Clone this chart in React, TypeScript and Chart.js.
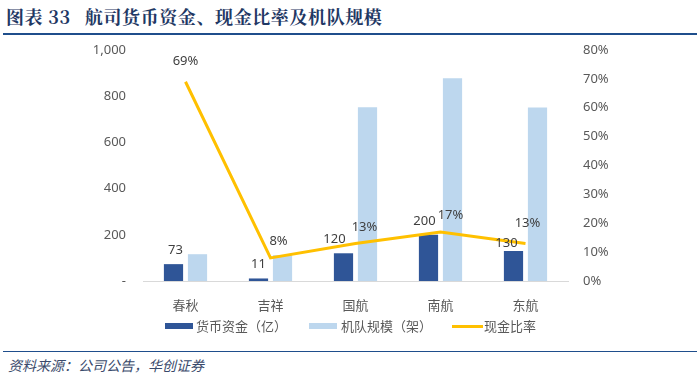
import React, { useEffect, useRef } from "react";
import { Chart, registerables } from "chart.js";

Chart.register(...registerables);

const categories = ["春秋", "吉祥", "国航", "南航", "东航"];
const cashFunds = [73, 11, 120, 200, 130]; // 货币资金（亿）
const fleetSize = [116, 112, 752, 878, 751]; // 机队规模（架）
const cashRatio = [0.69, 0.08, 0.13, 0.17, 0.13]; // 现金比率
const leftTicks = [0, 200, 400, 600, 800, 1000];
const rightTicks = [0, 0.1, 0.2, 0.3, 0.4, 0.5, 0.6, 0.7, 0.8];

// label nudges (style only)
const cashLabelDx = [2, 0, -9, -4, -7];
const cashLabelDy = [0, 0, 0, 0, 6];
const ratioLabelDx = [0, 8, 9, 10, 2];
const ratioLabelDy = [-4, 0, 1, 0, -3];

const FONT = "'Noto Sans', 'Noto Sans CJK SC', sans-serif";
const CJK = "'Noto Sans CJK SC', 'Noto Sans', sans-serif";

const labelPlugin = {
  id: "valueLabels",
  afterDatasetsDraw(chart: any) {
    const ctx = chart.ctx;
    ctx.save();
    ctx.font = `13px ${FONT}`;
    ctx.fillStyle = "#404040";
    ctx.textAlign = "center";
    ctx.textBaseline = "alphabetic";
    const m0 = chart.getDatasetMeta(0);
    m0.data.forEach((el: any, i: number) => {
      ctx.fillText(String(cashFunds[i]), el.x + cashLabelDx[i], el.y - 10 + cashLabelDy[i]);
    });
    const m2 = chart.getDatasetMeta(2);
    m2.data.forEach((el: any, i: number) => {
      ctx.fillText(
        `${Math.round(cashRatio[i] * 100)}%`,
        el.x + ratioLabelDx[i],
        el.y - 13 + ratioLabelDy[i]
      );
    });
    ctx.restore();
  },
};

function ChartView() {
  const ref = useRef<HTMLCanvasElement | null>(null);
  useEffect(() => {
    if (!ref.current) return;
    const chart = new Chart(ref.current, {
      type: "bar",
      data: {
        labels: categories,
        datasets: [
          {
            type: "bar",
            label: "货币资金（亿）",
            data: cashFunds,
            backgroundColor: "#2F5597",
            yAxisID: "y",
            order: 1,
            barPercentage: 0.8,
            categoryPercentage: 0.565,
          },
          {
            type: "bar",
            label: "机队规模（架）",
            data: fleetSize,
            backgroundColor: "#BDD7EE",
            yAxisID: "y",
            order: 1,
            barPercentage: 0.8,
            categoryPercentage: 0.565,
          },
          {
            type: "line",
            label: "现金比率",
            data: cashRatio,
            borderColor: "#FFC000",
            backgroundColor: "#FFC000",
            borderWidth: 3,
            pointRadius: 0,
            tension: 0,
            yAxisID: "y1",
            order: 0,
          },
        ] as any,
      },
      options: {
        animation: false,
        responsive: false,
        maintainAspectRatio: false,
        devicePixelRatio: 1,
        layout: { padding: { top: 0, left: 0, right: 0, bottom: 0 } },
        plugins: {
          legend: { display: false },
          tooltip: { enabled: false },
        },
        scales: {
          x: {
            grid: { display: false, drawTicks: false },
            border: { display: true, color: "#D9D9D9", width: 1 },
            ticks: {
              color: "#595959",
              font: { family: CJK, size: 13 },
              padding: 16,
            },
            afterFit(scale: any) {
              scale.height = 59;
            },
          },
          y: {
            position: "left",
            min: 0,
            max: 1000,
            afterBuildTicks(scale: any) {
              scale.ticks = leftTicks.map((v) => ({ value: v }));
            },
            grid: { display: false, drawTicks: false },
            border: { display: false },
            ticks: {
              color: "#595959",
              font: { family: FONT, size: 13 },
              padding: 17,
              callback: (v: any) => (Number(v) === 0 ? "-" : Number(v).toLocaleString("en-US")),
            },
            afterFit(scale: any) {
              scale.width = 143;
              scale.paddingTop = 25;
            },
          },
          y1: {
            position: "right",
            min: 0,
            max: 0.8,
            afterBuildTicks(scale: any) {
              scale.ticks = rightTicks.map((v) => ({ value: v }));
            },
            grid: { display: false, drawTicks: false },
            border: { display: false },
            ticks: {
              color: "#595959",
              font: { family: FONT, size: 13 },
              padding: 15,
              callback: (v: any) => `${Math.round(Number(v) * 100)}%`,
            },
            afterFit(scale: any) {
              scale.width = 132;
              scale.paddingTop = 25;
            },
          },
        },
      } as any,
      plugins: [labelPlugin],
    });
    return () => chart.destroy();
  }, []);
  return (
    <canvas
      ref={ref}
      width={700}
      height={315}
      style={{ position: "absolute", left: 0, top: 25, width: 700, height: 315 }}
    />
  );
}

const legendItems = [
  { label: "货币资金（亿）", color: "#2F5597", h: 6, w: 28, left: 165, textLeft: 196 },
  { label: "机队规模（架）", color: "#BDD7EE", h: 6, w: 28, left: 309, textLeft: 341 },
  { label: "现金比率", color: "#FFC000", h: 3, w: 31, left: 452, textLeft: 484 },
];

export default function App() {
  return (
    <div
      style={{
        position: "absolute",
        left: 0,
        top: 0,
        width: 700,
        height: 376,
        background: "#fff",
        overflow: "hidden",
      }}
    >
      <ChartView />
      <div
        style={{
          position: "absolute",
          left: 0,
          top: 0,
          width: 700,
          height: 33,
          background: "#fff",
        }}
      />
      <div
        style={{
          position: "absolute",
          left: 6,
          top: 3,
          fontFamily: "'Noto Serif CJK SC', 'Noto Sans CJK SC', serif",
          fontWeight: 700,
          fontSize: 18,
          letterSpacing: 0.6,
          color: "#1F3864",
          whiteSpace: "nowrap",
          lineHeight: "26px",
        }}
      >
        <span>图表 33</span>
        <span style={{ marginLeft: 14 }}>航司货币资金、现金比率及机队规模</span>
      </div>
      <div
        style={{
          position: "absolute",
          left: 3,
          right: 3,
          top: 33,
          height: 2,
          background: "#1F4E8C",
        }}
      />
      {legendItems.map((it) => (
        <React.Fragment key={it.label}>
          <div
            style={{
              position: "absolute",
              left: it.left,
              top: 326 - it.h / 2,
              width: it.w,
              height: it.h,
              background: it.color,
            }}
          />
          <div
            style={{
              position: "absolute",
              left: it.textLeft,
              top: 317,
              fontFamily: CJK,
              fontSize: 13,
              lineHeight: "18px",
              color: "#595959",
              whiteSpace: "nowrap",
            }}
          >
            {it.label}
          </div>
        </React.Fragment>
      ))}
      <div
        style={{
          position: "absolute",
          left: 3,
          right: 3,
          top: 351,
          height: 1,
          background: "#1F4E8C",
        }}
      />
      <div
        style={{
          position: "absolute",
          left: 8,
          top: 355,
          fontFamily: CJK,
          fontStyle: "italic",
          fontSize: 14,
          lineHeight: "20px",
          color: "#3A4A6B",
          whiteSpace: "nowrap",
        }}
      >
        资料来源：公司公告，华创证券
      </div>
    </div>
  );
}
